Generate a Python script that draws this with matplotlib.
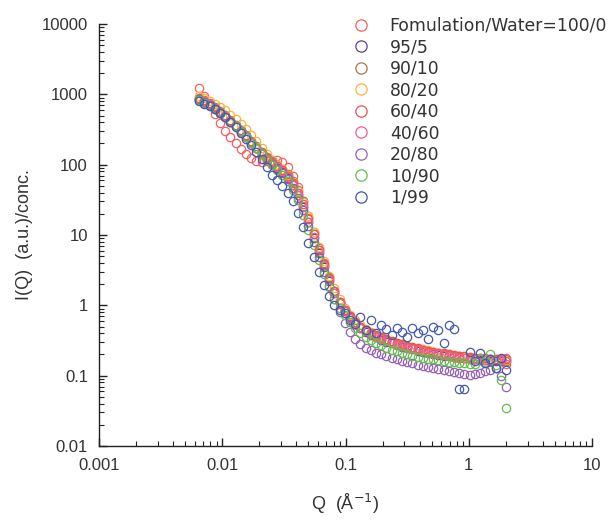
import matplotlib
matplotlib.use("Agg")
import matplotlib.pyplot as plt
from matplotlib.ticker import FuncFormatter, LogLocator, NullFormatter, FixedLocator

Q = [0.00650, 0.00716, 0.00789, 0.00870, 0.00959, 0.01057, 0.01165, 0.01284, 0.01414, 0.01559,
     0.01718, 0.01893, 0.02086, 0.02299, 0.02533, 0.02792, 0.03076, 0.03390, 0.03736, 0.04117,
     0.04537, 0.05000, 0.05510, 0.06072, 0.06691, 0.07373, 0.08125, 0.08954, 0.09867, 0.1087,
     0.1198, 0.1320, 0.1455, 0.1603, 0.1767, 0.1947, 0.2145, 0.2364, 0.2605, 0.2871,
     0.3164, 0.3486, 0.3842, 0.4234, 0.4666, 0.5142, 0.5666, 0.6244, 0.6881, 0.7582,
     0.8355, 0.9208, 1.015, 1.118, 1.232, 1.358, 1.496, 1.649, 1.817, 2.000]

labels = ["Fomulation/Water=100/0", "95/5", "90/10", "80/20", "60/40",
          "40/60", "20/80", "10/90", "1/99"]

x_ticks = [0.001, 0.01, 0.1, 1, 10]
y_ticks = [0.01, 0.1, 1, 10, 100, 1000, 10000]

I_100_0 = [1250, 950, 700, 520, 395, 305, 245, 200, 166, 140, 124, 114, 110, 112, 116, 116, 108, 92, 70, 48,
           30, 17.5, 10.2, 6.1, 3.8, 2.4, 1.58, 1.12, 0.86, 0.69, 0.57, 0.49, 0.435, 0.395, 0.365, 0.34,
           0.32, 0.3, 0.285, 0.27, 0.258, 0.248, 0.238, 0.23, 0.222, 0.215, 0.208, 0.202, 0.197, 0.192,
           0.188, 0.184, 0.18, 0.177, 0.174, 0.172, 0.17, 0.168, 0.175, 0.145]
I_95_5 = [860, 790, 715, 640, 560, 488, 420, 358, 302, 252, 208, 172, 143, 120, 103, 90, 78, 65, 51, 37,
          25, 15.2, 9.1, 5.6, 3.5, 2.25, 1.5, 1.07, 0.83, 0.66, 0.55, 0.47, 0.42, 0.38, 0.35, 0.325,
          0.305, 0.287, 0.272, 0.258, 0.246, 0.236, 0.227, 0.219, 0.212, 0.205, 0.199, 0.193, 0.188, 0.184,
          0.18, 0.176, 0.173, 0.17, 0.168, 0.166, 0.164, 0.163, 0.162, 0.16]
I_90_10 = [900, 820, 745, 665, 585, 508, 436, 370, 312, 262, 218, 182, 152, 128, 111, 98, 87, 74, 59, 44,
           30, 18.5, 11, 6.6, 4.0, 2.5, 1.62, 1.13, 0.87, 0.7, 0.58, 0.5, 0.44, 0.4, 0.37, 0.34,
           0.32, 0.3, 0.284, 0.27, 0.257, 0.246, 0.236, 0.228, 0.22, 0.213, 0.206, 0.2, 0.195, 0.19,
           0.186, 0.182, 0.178, 0.175, 0.172, 0.17, 0.168, 0.166, 0.165, 0.164]
I_80_20 = [960, 890, 815, 740, 665, 592, 515, 445, 380, 320, 265, 215, 175, 142, 118, 100, 86, 72, 57, 42,
           29.5, 18.5, 11.2, 6.8, 4.2, 2.65, 1.75, 1.22, 0.93, 0.74, 0.61, 0.52, 0.46, 0.415, 0.38, 0.355,
           0.333, 0.312, 0.295, 0.28, 0.267, 0.255, 0.245, 0.236, 0.228, 0.22, 0.213, 0.207, 0.201, 0.196,
           0.191, 0.187, 0.183, 0.18, 0.177, 0.174, 0.172, 0.17, 0.168, 0.167]
I_60_40 = [840, 770, 700, 625, 550, 480, 415, 355, 300, 252, 210, 175, 147, 125, 108, 95, 83, 69, 54, 40,
           27.5, 16.8, 10.2, 6.2, 3.9, 2.45, 1.6, 1.13, 0.87, 0.7, 0.58, 0.5, 0.445, 0.405, 0.375, 0.35,
           0.33, 0.31, 0.293, 0.278, 0.265, 0.254, 0.244, 0.235, 0.227, 0.22, 0.213, 0.207, 0.201, 0.196,
           0.192, 0.188, 0.184, 0.181, 0.178, 0.176, 0.174, 0.172, 0.17, 0.17]
I_40_60 = [870, 795, 720, 642, 563, 490, 420, 358, 302, 253, 210, 174, 145, 122, 105, 92, 80, 66, 51, 37.5,
           25.5, 15.5, 9.3, 5.7, 3.6, 2.3, 1.52, 1.08, 0.84, 0.67, 0.555, 0.475, 0.425, 0.385, 0.355, 0.33,
           0.31, 0.29, 0.275, 0.26, 0.248, 0.238, 0.229, 0.221, 0.213, 0.207, 0.2, 0.195, 0.19, 0.185,
           0.181, 0.178, 0.175, 0.172, 0.17, 0.168, 0.167, 0.166, 0.165, 0.18]
I_20_80 = [850, 775, 700, 625, 548, 477, 410, 350, 296, 248, 205, 170, 141, 118, 101, 88, 76, 62, 47, 34,
           22.5, 13.5, 8, 4.9, 3.0, 1.9, 1.22, 0.8, 0.56, 0.42, 0.33, 0.28, 0.25, 0.23, 0.213, 0.2,
           0.188, 0.178, 0.17, 0.162, 0.155, 0.149, 0.144, 0.139, 0.134, 0.13, 0.126, 0.122, 0.118, 0.114,
           0.11, 0.106, 0.103, 0.106, 0.11, 0.116, 0.122, 0.128, 0.1, 0.07]
I_10_90 = [820, 750, 680, 610, 540, 475, 410, 350, 295, 248, 205, 170, 140, 116, 98, 85, 72, 58, 44, 31,
           19.5, 11.8, 7.1, 4.4, 2.75, 1.8, 1.25, 0.93, 0.72, 0.58, 0.48, 0.41, 0.36, 0.32, 0.29, 0.27,
           0.25, 0.235, 0.222, 0.211, 0.201, 0.193, 0.186, 0.18, 0.175, 0.17, 0.166, 0.162, 0.158, 0.155,
           0.152, 0.15, 0.148, 0.148, 0.18, 0.155, 0.2, 0.14, 0.087, 0.035]
I_1_99 = [800, 740, 680, 610, 540, 470, 402, 340, 285, 235, 190, 152, 120, 92, 72, 60, 50, 40, 30, 20.5,
          12.8, 7.8, 4.8, 3.0, 1.95, 1.35, 1.0, 0.85, 0.78, 0.62, 0.55, 0.68, 0.45, 0.62, 0.40, 0.52,
          0.46, 0.38, 0.47, 0.42, 0.36, 0.48, 0.40, 0.44, 0.33, 0.49, 0.45, 0.29, 0.52, 0.46,
          0.064, 0.064, 0.22, 0.16, 0.21, 0.15, 0.17, 0.13, 0.18, 0.12]

series = [I_100_0, I_95_5, I_90_10, I_80_20, I_60_40, I_40_60, I_20_80, I_10_90, I_1_99]
colors = ["#f26060", "#5a3f9e", "#a57a48", "#fbb43c", "#ef5050",
          "#ee5f92", "#9560b5", "#62bf4c", "#4458ad"]

fig = plt.figure(figsize=(6.16, 5.23), dpi=100)
ax = fig.add_axes([99/616, 1-446/523, 493/616, 422/523])

for ys, c, lab in zip(series, colors, labels):
    ax.plot(Q, ys, linestyle="none", marker="o", markersize=6, markerfacecolor="none",
            markeredgecolor=c, markeredgewidth=0.9, label=lab)

ax.set_xscale("log")
ax.set_yscale("log")
ax.set_xlim(0.001, 10)
ax.set_ylim(0.01, 10000)

fmt = FuncFormatter(lambda v, p: "{:g}".format(v))
ax.xaxis.set_major_locator(FixedLocator(x_ticks))
ax.yaxis.set_major_locator(FixedLocator(y_ticks))
ax.xaxis.set_major_formatter(fmt)
ax.yaxis.set_major_formatter(fmt)
ax.xaxis.set_minor_locator(LogLocator(base=10, subs=range(2, 10), numticks=20))
ax.yaxis.set_minor_locator(LogLocator(base=10, subs=range(2, 10), numticks=20))
ax.xaxis.set_minor_formatter(NullFormatter())
ax.yaxis.set_minor_formatter(NullFormatter())

for s in ["top", "right"]:
    ax.spines[s].set_visible(False)
for s in ["left", "bottom"]:
    ax.spines[s].set_color("#222222")
    ax.spines[s].set_linewidth(1.0)

ax.tick_params(which="major", direction="in", length=6, width=1, colors="#222222",
               labelsize=12, labelcolor="#333333")
ax.tick_params(axis="x", which="major", pad=9)
ax.tick_params(axis="y", which="major", pad=8)
ax.tick_params(which="minor", direction="in", length=3.5, width=0.8, colors="#222222")
for t in ax.get_xticklabels() + ax.get_yticklabels():
    t.set_fontfamily("Liberation Sans")

ax.set_ylabel("I(Q)  (a.u.)/conc.", fontsize=13, family="Liberation Sans", color="#333333")
ax.set_xlabel("Q  (Å$^{-1}$)", fontsize=13, family="Liberation Sans", color="#333333")
ax.yaxis.set_label_coords(-0.134, 0.5)
ax.xaxis.set_label_coords(0.5, -0.108)

leg = fig.legend(loc="upper left", bbox_to_anchor=(352/616, 1-17/523), frameon=False,
                 prop={"family": "DejaVu Sans", "size": 12.4}, handletextpad=1.19,
                 labelspacing=0.2, borderaxespad=0, borderpad=0, handlelength=1.0,
                 markerscale=1.35, labelcolor="#333333")

fig.savefig("out.png", dpi=100)
